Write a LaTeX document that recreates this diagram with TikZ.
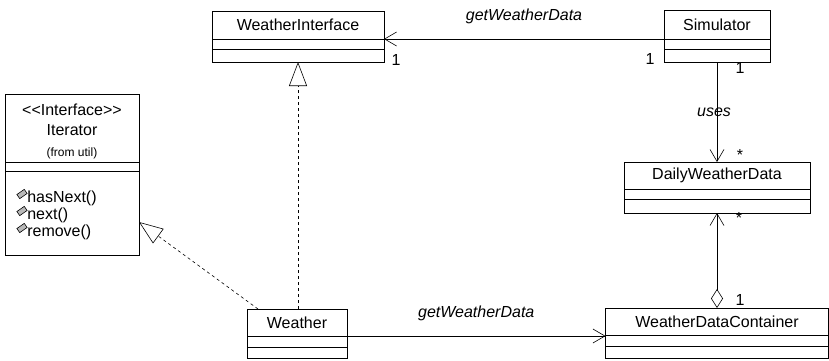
\documentclass[tikz,border=0pt]{standalone}
\usepackage{fontspec}
\setmainfont{Liberation Sans}
\usetikzlibrary{positioning,arrows.meta}

\begin{document}
\begin{tikzpicture}[x=1pt, y=-1pt, line width=0.6pt,
    font=\fontsize{16}{19}\selectfont,
    cname/.style={draw, inner sep=0pt, outer sep=0pt, anchor=north west},
    cpart/.style={draw, inner sep=0pt, outer sep=0pt, below=0pt of #1},
    assoc/.style={-{Straight Barb[length=12pt,width=14pt]}},
    realize/.style={dash pattern=on 3pt off 3pt,
        -{Triangle[open,length=24pt,width=18pt,fill=white]}},
    aggr/.style={{Diamond[open,length=19pt,width=12pt]}-{Straight Barb[length=12pt,width=14pt]}},
    lbl/.style={font=\fontsize{16}{19}\selectfont\itshape},
    mult/.style={inner sep=0pt},
    opicon/.style={draw, fill=gray!55, minimum width=9pt, minimum height=5pt,
        inner sep=0pt, rotate=35}]

    \useasboundingbox (0,0) rectangle (829,361);

    % Klassen
    \node[cname, minimum width=172, minimum height=28] (wi) at (212,11) {WeatherInterface};
    \node[cpart=wi, minimum width=172, minimum height=10] (wi-a) {};
    \node[cpart=wi-a, minimum width=172, minimum height=13] (wi-o) {};

    \node[cname, minimum width=106, minimum height=29] (sim) at (664,10) {Simulator};
    \node[cpart=sim, minimum width=106, minimum height=10] (sim-a) {};
    \node[cpart=sim-a, minimum width=106, minimum height=13] (sim-o) {};

    \node[cname, minimum width=186, minimum height=27] (dwd) at (624,162) {DailyWeatherData};
    \node[cpart=dwd, minimum width=186, minimum height=10] (dwd-a) {};
    \node[cpart=dwd-a, minimum width=186, minimum height=14] (dwd-o) {};

    \node[cname, minimum width=223, minimum height=27] (wdc) at (605.5,308) {WeatherDataContainer};
    \node[cpart=wdc, minimum width=223, minimum height=11] (wdc-a) {};
    \node[cpart=wdc-a, minimum width=223, minimum height=12] (wdc-o) {};

    \node[cname, minimum width=100, minimum height=27] (w) at (247,309) {Weather};
    \node[cpart=w, minimum width=100, minimum height=11] (w-a) {};
    \node[cpart=w-a, minimum width=100, minimum height=11] (w-o) {};

    % Iterator (Interface)
    \node[cname, minimum width=134, minimum height=68, align=center] (it) at (5,94)
        {\rule{0pt}{18pt}{<}{<}Interface{>}{>}\\[1pt] Iterator\\[2pt]
         {\fontsize{12}{14}\selectfont (from util)}};
    \node[cpart=it, minimum width=134, minimum height=9] (it-a) {};
    \node[cpart=it-a, minimum width=134, minimum height=84] (it-o) {};
    \foreach \op/\yy [count=\i] in {hasNext()/198, next()/215, remove()/232} {
        \node[opicon] (icon\i) at (22,\yy-4) {};
        \node[anchor=west, inner sep=0pt] (op\i) at (27,\yy) {\op};
    }

    % Beziehungen
    \draw[assoc] (sim.south west) -- (wi.south east)
        node[midway, above=12pt, lbl] (lbl1) {getWeatherData};
    \node[mult] (m1) at (396,60) {1};
    \node[mult] (m2) at (650,59) {1};

    \draw[assoc] (sim-o.south) -- (dwd.north)
        node[midway, xshift=-3pt, lbl] (lbl2) {uses};
    \node[mult] (m3) at (740,68) {1};
    \node[mult] (m4) at (740,155) {*};

    \draw[aggr] (wdc.north) -- (dwd-o.south);
    \node[mult] (m5) at (739,218) {*};
    \node[mult] (m6) at (740,300) {1};

    \coordinate (wEnd) at (w.south east);
    \draw[assoc] (wEnd) -- (wEnd -| wdc.west)
        node[midway, above=12pt, lbl] (lbl3) {getWeatherData};

    \draw[realize] (w.north -| wi-o.south) -- (wi-o.south);
    \coordinate (itTip) at ([yshift=-9pt]it-o.east);
    \draw[realize] ([xshift=11pt]w.north west) -- (itTip);

\end{tikzpicture}
\end{document}
